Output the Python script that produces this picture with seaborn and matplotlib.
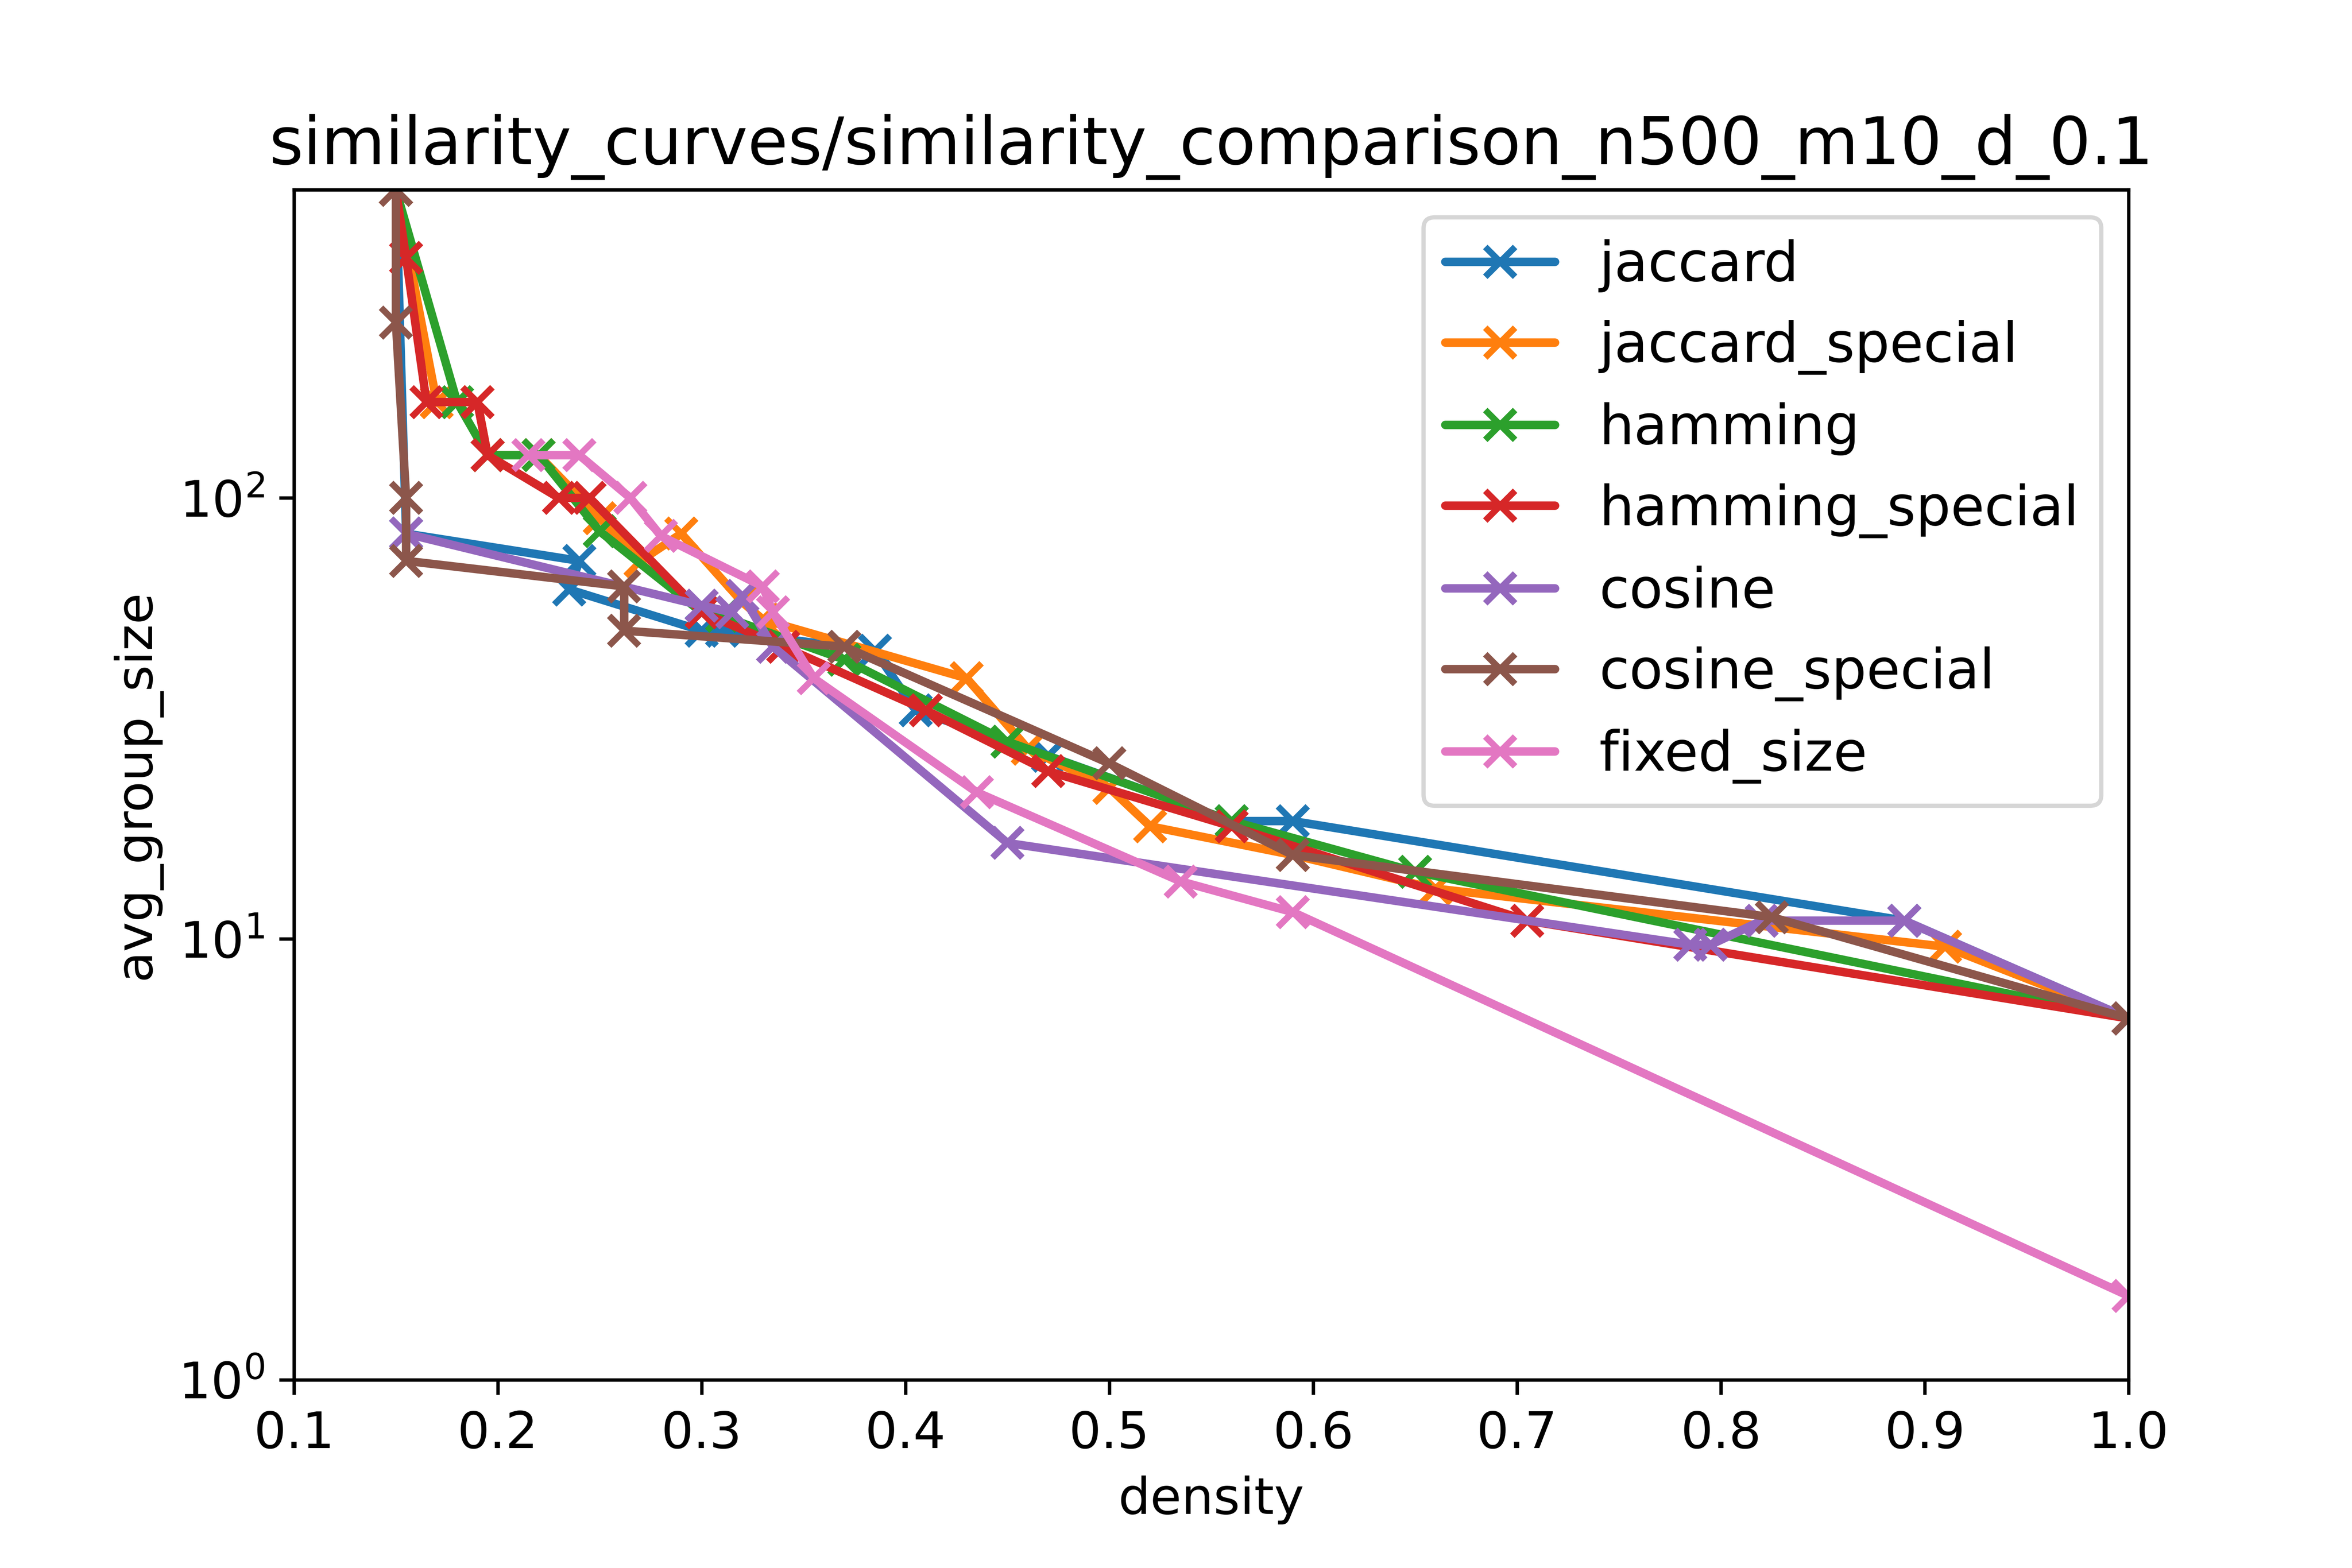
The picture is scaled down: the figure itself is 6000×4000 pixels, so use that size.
import matplotlib
matplotlib.use("Agg")
import matplotlib.pyplot as plt
import seaborn as sns
import pandas as pd
from matplotlib.ticker import NullLocator

sns.set_style("ticks")
plt.rcParams['font.family'] = ['DejaVu Sans']
plt.rcParams.update({'text.color': 'black', 'axes.labelcolor': 'black',
                     'xtick.color': 'black', 'ytick.color': 'black',
                     'axes.edgecolor': 'black'})

jaccard_x = [0.15, 0.155, 0.24, 0.235, 0.30, 0.31, 0.385, 0.405, 0.47, 0.56, 0.59, 0.89, 1.0]
jaccard_y = [500, 83, 72, 62, 50, 50, 45, 33, 26, 18.5, 18.5, 11, 6.6]
jaccard_special_x = [0.15, 0.17, 0.19, 0.195, 0.22, 0.25, 0.27, 0.29, 0.32, 0.33, 0.43, 0.46, 0.50, 0.52, 0.59, 0.66, 0.91, 1.0]
jaccard_special_y = [500, 165, 165, 125, 125, 90, 72, 83, 58, 53, 39, 27, 22, 18, 15.5, 13, 9.6, 6.6]
hamming_x = [0.15, 0.18, 0.195, 0.22, 0.25, 0.30, 0.31, 0.37, 0.45, 0.56, 0.65, 1.0]
hamming_y = [500, 165, 125, 125, 84, 55, 54, 43, 28, 18.5, 14.2, 6.6]
hamming_special_x = [0.15, 0.155, 0.165, 0.19, 0.195, 0.23, 0.245, 0.30, 0.34, 0.41, 0.47, 0.56, 0.705, 1.0]
hamming_special_y = [500, 350, 165, 165, 125, 100, 100, 55, 46, 33, 24, 18, 11, 6.6]
cosine_x = [0.155, 0.30, 0.315, 0.32, 0.335, 0.45, 0.785, 0.795, 0.82, 0.89, 1.0]
cosine_y = [83, 57, 55, 60, 46, 16.5, 9.7, 9.7, 11, 11, 6.6]
cosine_special_x = [0.15, 0.15, 0.155, 0.155, 0.262, 0.262, 0.37, 0.50, 0.59, 0.825, 1.0]
cosine_special_y = [500, 250, 100, 72, 63, 50, 46, 25, 15.5, 11.2, 6.6]
fixed_size_x = [0.215, 0.24, 0.265, 0.28, 0.33, 0.335, 0.355, 0.435, 0.535, 0.59, 1.0]
fixed_size_y = [125, 125, 100, 82, 63, 55, 39, 21.5, 13.5, 11.5, 1.55]

series = [("jaccard", jaccard_x, jaccard_y),
          ("jaccard_special", jaccard_special_x, jaccard_special_y),
          ("hamming", hamming_x, hamming_y),
          ("hamming_special", hamming_special_x, hamming_special_y),
          ("cosine", cosine_x, cosine_y),
          ("cosine_special", cosine_special_x, cosine_special_y),
          ("fixed_size", fixed_size_x, fixed_size_y)]

palette = sns.color_palette("tab10")
fig, ax = plt.subplots(figsize=(7.725, 5.15), dpi=776.7)
fig.subplots_adjust(left=0.125, right=0.905, bottom=0.12, top=0.879)
for i, (name, xs, ys) in enumerate(series):
    d = pd.DataFrame({"density": xs, "avg_group_size": ys})
    sns.lineplot(data=d, x="density", y="avg_group_size", color=palette[i],
                 estimator=None, sort=False, marker="x", markersize=7,
                 markeredgewidth=1.5, markeredgecolor=palette[i],
                 linewidth=2, label=name, ax=ax)
ax.set_yscale("log")
ax.set_xlim(0.1, 1.0)
ax.set_ylim(1, 500)
ax.set_xticks([0.1, 0.2, 0.3, 0.4, 0.5, 0.6, 0.7, 0.8, 0.9, 1.0])
ax.yaxis.set_minor_locator(NullLocator())
ax.tick_params(labelsize=12)
ax.set_xlabel("density", fontsize=12)
ax.set_ylabel("avg_group_size", fontsize=12)
ax.set_title("similarity_curves/similarity_comparison_n500_m10_d_0.1", fontsize=15.5)
ax.legend(loc="upper right", fontsize=13, frameon=True)
fig.savefig("out.png")
